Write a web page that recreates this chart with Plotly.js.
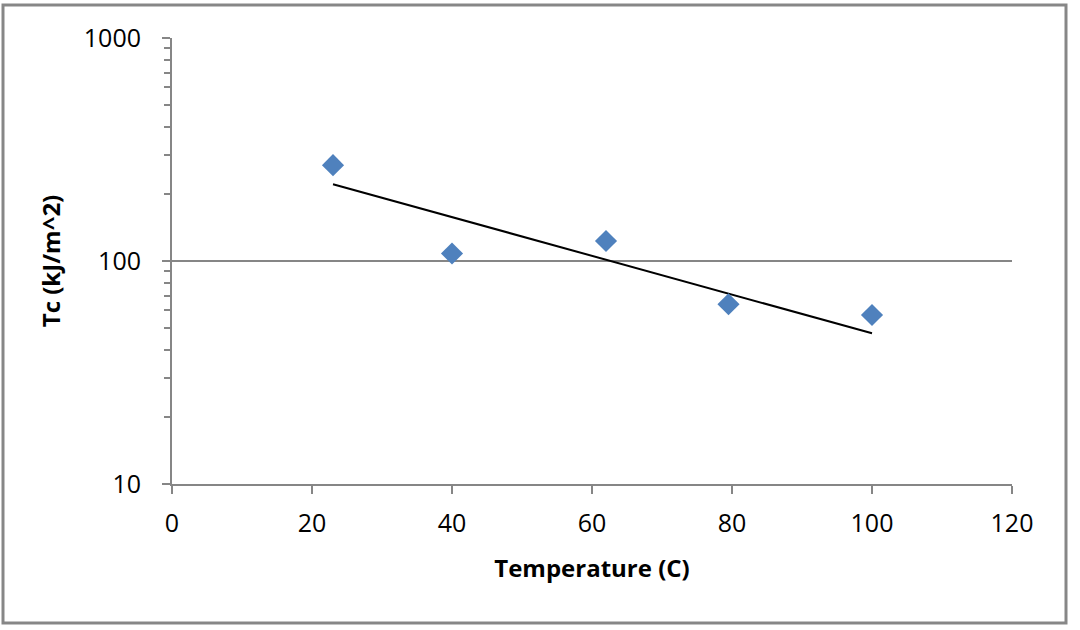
<!DOCTYPE html>
<html>
<head>
<meta charset="utf-8">
<script src="https://cdn.plot.ly/plotly-3.0.1.min.js"></script>
<style>
  html, body { margin: 0; padding: 0; background: #ffffff; }
  #chart { width: 1080px; height: 630px; }
</style>
</head>
<body>
<div id="chart"></div>
<script>
// Data
const temperature = [23, 40, 62, 79.5, 100];
const toughness = [269, 108, 123, 64, 57.3];
// Exponential trendline end points (as drawn in the reference)
const trendTemperature = [23, 100];
const trendToughness = [221, 47.4];

const xTickValues = [0, 20, 40, 60, 80, 100, 120];
const yTickValues = [10, 100, 1000];
const yTickLabels = ['10', '100', '1000'];

const axisGrey = '#868686';
const fontFamily = '"Open Sans", Lato, sans-serif';

const data = [
  {
    x: trendTemperature,
    y: trendToughness,
    type: 'scatter',
    mode: 'lines',
    line: { color: '#000000', width: 2 },
    hoverinfo: 'skip',
    showlegend: false
  },
  {
    x: temperature,
    y: toughness,
    type: 'scatter',
    mode: 'markers',
    marker: { symbol: 'diamond', size: 17, color: '#4F81BD' },
    showlegend: false
  }
];

const layout = {
  width: 1080,
  height: 630,
  paper_bgcolor: '#ffffff',
  plot_bgcolor: '#ffffff',
  margin: { l: 172, r: 68, t: 38, b: 146 },
  font: { family: fontFamily, size: 25, color: '#000000' },
  showlegend: false,
  xaxis: {
    range: [0, 120],
    tickvals: xTickValues,
    ticks: 'outside',
    ticklen: 8,
    tickwidth: 2,
    tickcolor: axisGrey,
    ticklabelstandoff: 8,
    showline: true,
    linecolor: axisGrey,
    linewidth: 2,
    showgrid: false,
    zeroline: false,
    tickfont: { family: fontFamily, size: 25, color: '#000000' },
    title: { text: 'Temperature (C)', font: { family: fontFamily, size: 24, color: '#000000', weight: 'bold' }, standoff: 22 }
  },
  yaxis: {
    type: 'log',
    range: [1, 3],
    tickvals: yTickValues,
    ticktext: yTickLabels,
    ticks: 'outside',
    ticklen: 8,
    tickwidth: 2,
    tickcolor: axisGrey,
    ticklabelstandoff: 16,
    showline: true,
    linecolor: axisGrey,
    linewidth: 2,
    showgrid: true,
    gridcolor: axisGrey,
    gridwidth: 2,
    zeroline: false,
    minor: { ticks: 'outside', ticklen: 6, tickwidth: 2, tickcolor: axisGrey, dtick: 'D1', showgrid: false },
    tickfont: { family: fontFamily, size: 25, color: '#000000' },
    title: { text: 'Tc (kJ/m^2)', font: { family: fontFamily, size: 24, color: '#000000', weight: 'bold' }, standoff: 16 }
  },
  shapes: [
    {
      type: 'rect', xref: 'paper', yref: 'paper', layer: 'above',
      x0: (3 - 172) / 840, x1: (1066 - 172) / 840,
      y0: (484 - 623) / 446, y1: (484 - 5) / 446,
      line: { color: '#878787', width: 3 },
      fillcolor: 'rgba(0,0,0,0)'
    }
  ]
};

Plotly.newPlot('chart', data, layout, { displayModeBar: false, staticPlot: true });
</script>
</body>
</html>
